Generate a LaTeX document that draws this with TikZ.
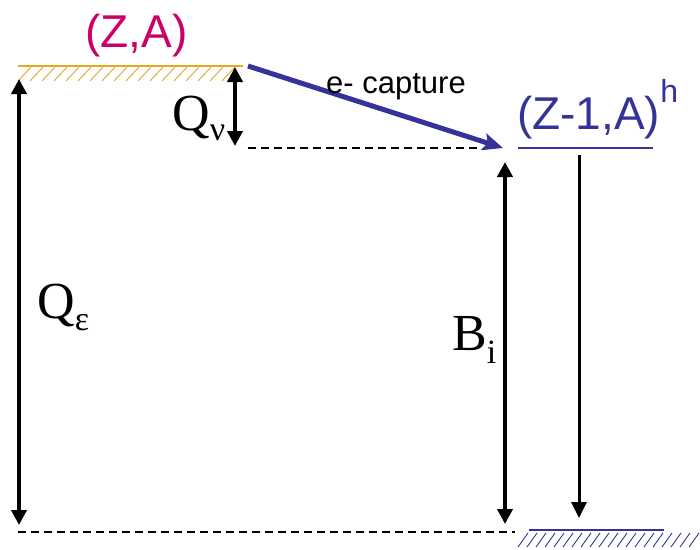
\documentclass[tikz,border=0pt]{standalone}
\usepackage{fontspec}
\setmainfont{Liberation Sans}
\newfontfamily\timesfont{Liberation Serif}
\usetikzlibrary{arrows.meta}
\definecolor{parentc}{RGB}{204,0,102}
\definecolor{daughterc}{RGB}{51,51,153}
\definecolor{groundc}{RGB}{230,168,30}
\newcommand\lowsub[2][12pt]{\raisebox{-#1}{\fontsize{34}{34}\selectfont #2}}
\tikzset{
  gap/.style      = {{Triangle[length=15pt,width=15pt]}-{Triangle[length=15pt,width=15pt]},
                     line width=3.8pt},
  decay/.style    = {-{Triangle[length=16pt,width=15pt]}, line width=3pt},
  capture/.style  = {-{Stealth[length=20pt,width=17pt,inset=4pt]}, line width=5pt, draw=daughterc},
  gapline/.style  = {dash pattern=on 8pt off 5pt, line width=2.8pt},
  level/.style    = {line width=1.5pt},
  hatch/.style    = {line width=0.9pt},
  nucl/.style     = {font=\fontsize{46}{46}\selectfont, inner sep=0pt, anchor=base west},
  qty/.style      = {font=\timesfont\fontsize{52}{52}\selectfont, inner sep=0pt, anchor=base west},
  lbl/.style      = {font=\fontsize{31}{31}\selectfont, inner sep=0pt, anchor=base},
}
\begin{document}
\begin{tikzpicture}[x=1pt, y=-1pt]
\useasboundingbox (0,0) rectangle (700,549);

% ---- levels ----
\coordinate (zaL) at (18,66);
\coordinate (zaR) at (243,66);
\coordinate (hL) at (518,148);
\coordinate (hR) at (653,148);
\coordinate (gL) at (529,530);
\coordinate (gR) at (664,530);

\draw[level, groundc] (zaL) -- (zaR);
\foreach \x in {18,30,...,230} { \draw[hatch, groundc] (\x,81) -- ++(13,-14); }
\draw[level, daughterc] (hL) -- (hR);
\draw[level, daughterc] (gL) -- (gR);
\foreach \x in {518,527,...,692} { \draw[hatch, daughterc] (\x,547) -- ++(10,-14); }

\node[nucl, text=parentc] (za) at (85,47) {(Z,A)};
\node[nucl, text=daughterc] (zh) at (517,129) {(Z-1,A)\raisebox{27pt}{\fontsize{32}{32}\selectfont h}};

% ---- capture ----
\coordinate (capS) at (248,66);
\coordinate (capE) at (503,148);
\draw[capture] (capS) -- (capE);
\node[lbl] (ecap) at (396,93) {e- capture};

% ---- dashed references ----
\coordinate (nuL) at (248,148);
\coordinate (nuR) at (480,148);
\coordinate (botL) at (18,532);
\coordinate (botR) at (515,532);
\draw[gapline] (nuL) -- (nuR);
\draw[gapline] (botL) -- (botR);

% ---- energy gaps ----
\coordinate (qeT) at (19,79);
\coordinate (qeB) at (19,525);
\coordinate (qnT) at (235,67);
\coordinate (qnB) at (235,146);
\coordinate (biT) at (505,162);
\coordinate (biB) at (505,524);
\coordinate (dT) at (579,155);
\coordinate (dB) at (579,518);

\draw[gap] (qeT) -- (qeB);
\draw[gap] (qnT) -- (qnB);
\draw[gap] (biT) -- (biB);
\draw[decay] (dT) -- (dB);

\node[qty] (qe) at (37,318) {Q\lowsub{ε}};
\node[qty] (qn) at (172,130) {Q\lowsub[10pt]{ν}};
\node[qty] (bi) at (452,350) {B\lowsub[13pt]{i}};

\end{tikzpicture}
\end{document}
